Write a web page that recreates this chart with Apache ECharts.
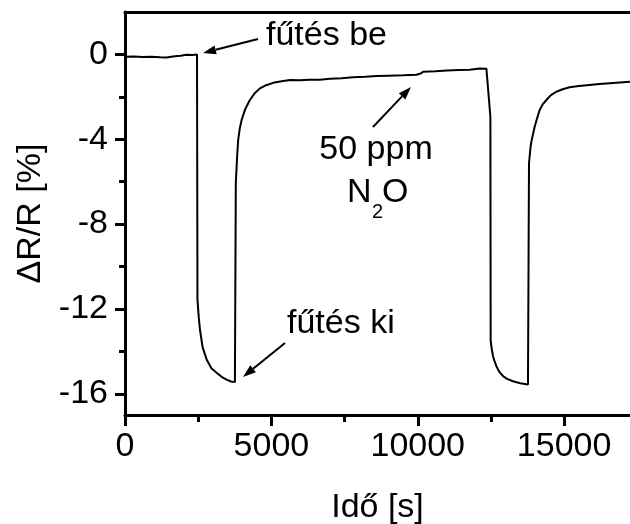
<!DOCTYPE html>
<html>
<head>
<meta charset="utf-8">
<script src="https://cdn.jsdelivr.net/npm/echarts@6/dist/echarts.min.js"></script>
<style>
  html, body { margin: 0; padding: 0; background: #fff; }
  #chart { width: 630px; height: 524px; }
</style>
</head>
<body>
<div id="chart"></div>
<script>
// 时间 [s]
const timeS = [
  0, 300, 600, 900, 1200, 1420, 1700, 1900, 2100, 2300, 2460,
  2475, 2520, 2560, 2650, 2788, 2950, 3130, 3300, 3471, 3620, 3754, 3778,
  3785, 3830, 3867, 3920, 3983, 4100, 4266, 4430, 4608, 4820, 5061, 5350, 5631, 5973,
  6300, 6655, 7000, 7400, 7792, 8200, 8600, 9000, 9500, 9955, 10100, 10181,
  10600, 11000, 11400, 11775, 12116, 12345,
  12481, 12491, 12520, 12530, 12570, 12620, 12686, 12780, 12911, 13050, 13253, 13500, 13765, 13790,
  13800, 13840, 13850, 13881, 13930, 13993, 14080, 14164, 14270, 14392, 14550, 14734, 14950,
  15188, 15500, 15870, 16200, 16553, 16900, 17300
]
// ΔR/R [%]
const dRR = [
  -0.11, -0.10, -0.12, -0.11, -0.13, -0.14, -0.09, -0.06, -0.02, -0.03, 0.0,
  -11.56, -12.4, -12.97, -13.8, -14.38, -14.8, -15.01, -15.2, -15.33, -15.42, -15.45, -15.45,
  -6.07, -4.8, -4.03, -3.5, -3.09, -2.6, -2.15, -1.83, -1.6, -1.45, -1.34, -1.26, -1.21, -1.22,
  -1.20, -1.19, -1.15, -1.12, -1.08, -1.05, -1.02, -1.0, -0.98, -0.96, -0.90, -0.82,
  -0.79, -0.76, -0.74, -0.72, -0.66, -0.67,
  -2.94, -13.52, -13.52, -13.9, -14.23, -14.45, -14.7, -14.95, -15.17, -15.3, -15.41, -15.5, -15.56, -15.57,
  -5.13, -5.13, -4.4, -4.11, -3.8, -3.41, -3.0, -2.62, -2.35, -2.15, -1.92, -1.76, -1.64,
  -1.55, -1.49, -1.44, -1.4, -1.36, -1.32, -1.29
]

// 刻度
const xMajorTicks = [0, 5000, 10000, 15000]
const xMinorTicks = [2500, 7500, 12500]
const yMajorTicks = [0, -4, -8, -12, -16]
const yMinorTicks = [-2, -6, -10, -14]

const FONT = '"Liberation Sans", Arial, sans-serif'
const FS = 34

const chart = echarts.init(document.getElementById('chart'))

// 箭头
function arrow(x1, y1, x2, y2) {
  const a = Math.atan2(y2 - y1, x2 - x1)
  const L = 13, W = 4.5
  const bx = x2 - L * Math.cos(a), by = y2 - L * Math.sin(a)
  const px = -Math.sin(a) * W, py = Math.cos(a) * W
  return [
    { type: 'line', shape: { x1: x1, y1: y1, x2: bx, y2: by }, style: { stroke: '#000', lineWidth: 2 } },
    { type: 'polygon', shape: { points: [[x2, y2], [bx + px, by + py], [bx - px, by - py]] }, style: { fill: '#000' } }
  ]
}

function label(text, x, y, size, align) {
  return {
    type: 'text', x: x, y: y,
    style: {
      text: text, fill: '#000', fontSize: size, fontFamily: FONT,
      align: align, textAlign: align, verticalAlign: 'middle', textVerticalAlign: 'middle'
    }
  }
}

const axisLineStyle = { color: '#000', width: 3 }

const option = {
  animation: false,
  backgroundColor: '#fff',
  grid: { left: 125, right: 0, top: 12, bottom: 109, outerBoundsMode: 'none', containLabel: false },
  xAxis: [
    {
      type: 'value', min: 0, max: 17250, position: 'bottom',
      axisLine: { show: true, onZero: false, lineStyle: axisLineStyle },
      axisTick: { show: true, customValues: xMajorTicks, length: 11, lineStyle: axisLineStyle },
      axisLabel: {
        customValues: xMajorTicks, fontSize: FS, fontFamily: FONT, color: '#000', margin: 15,
        formatter: v => String(v)
      },
      splitLine: { show: false },
      name: 'Idő [s]', nameLocation: 'middle', nameGap: 76,
      nameTextStyle: { fontSize: FS, fontFamily: FONT, color: '#000' }
    },
    {
      type: 'value', min: 0, max: 17250, position: 'bottom',
      axisLine: { show: false, onZero: false },
      axisTick: { show: true, customValues: xMinorTicks, length: 7, lineStyle: axisLineStyle },
      axisLabel: { show: false },
      splitLine: { show: false }
    },
    {
      type: 'value', min: 0, max: 17250, position: 'top',
      axisLine: { show: true, onZero: false, lineStyle: axisLineStyle },
      axisTick: { show: false },
      axisLabel: { show: false },
      splitLine: { show: false }
    }
  ],
  yAxis: [
    {
      type: 'value', min: -17, max: 2, position: 'left',
      axisLine: { show: true, onZero: false, lineStyle: axisLineStyle },
      axisTick: { show: true, customValues: yMajorTicks, length: 10, lineStyle: axisLineStyle },
      axisLabel: { customValues: yMajorTicks, fontSize: FS, fontFamily: FONT, color: '#000', margin: 17 },
      splitLine: { show: false },
      name: 'ΔR/R [%]', nameLocation: 'middle', nameRotate: 90, nameGap: 74,
      nameTextStyle: { fontSize: FS, fontFamily: FONT, color: '#000' }
    },
    {
      type: 'value', min: -17, max: 2, position: 'left',
      axisLine: { show: false, onZero: false },
      axisTick: { show: true, customValues: yMinorTicks, length: 6, lineStyle: axisLineStyle },
      axisLabel: { show: false },
      splitLine: { show: false }
    }
  ],
  series: [
    {
      type: 'line',
      xAxisIndex: 0, yAxisIndex: 0,
      data: timeS.map((t, i) => [t, dRR[i]]),
      showSymbol: false,
      lineStyle: { color: '#000', width: 2 },
      clip: true
    }
  ],
  graphic: [
    label('fűtés be', 266, 36, FS, 'left'),
    ...arrow(258, 39, 203, 53),
    label('50 ppm', 376, 150, FS, 'center'),
    label('N', 347, 193, FS, 'left'),
    label('2', 372, 212, 20, 'left'),
    label('O', 382, 193, FS, 'left'),
    ...arrow(373, 127, 411, 87),
    label('fűtés ki', 287, 324, FS, 'left'),
    ...arrow(285, 343, 243, 377)
  ]
}

chart.setOption(option)
</script>
</body>
</html>
